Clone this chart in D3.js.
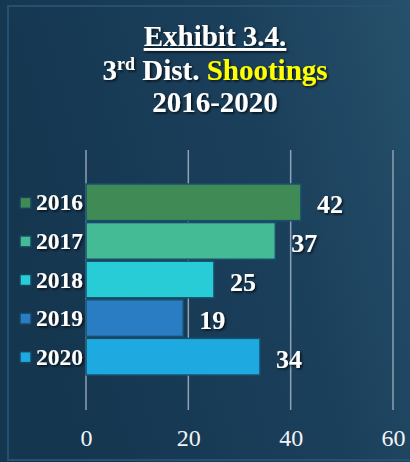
<!DOCTYPE html>
<html>
<head>
<meta charset="utf-8">
<script src="https://cdn.jsdelivr.net/npm/d3@7"></script>
<style>
  body { margin: 0; background: #173a56; }
  text { font-family: "Liberation Serif", "Times New Roman", serif; }
</style>
</head>
<body>
<script>
var years = ["2016", "2017", "2018", "2019", "2020"];
var shootings = [42, 37, 25, 19, 34];
var barColors = ["#3f8a55", "#45bb95", "#27ccd7", "#2a7dc3", "#1eaae0"];
var xTicks = [0, 20, 40, 60];

var W = 410, H = 462;

var svg = d3.select("body").append("svg")
    .attr("width", W)
    .attr("height", H);

var defs = svg.append("defs");
var bg = defs.append("linearGradient")
    .attr("id", "bg")
    .attr("x1", "0%").attr("y1", "30%")
    .attr("x2", "100%").attr("y2", "0%");
bg.append("stop").attr("offset", "0%").attr("stop-color", "#15364f");
bg.append("stop").attr("offset", "60%").attr("stop-color", "#1b405c");
bg.append("stop").attr("offset", "100%").attr("stop-color", "#26506b");

var shadow = defs.append("filter")
    .attr("id", "shadow")
    .attr("x", "-20%").attr("y", "-20%")
    .attr("width", "140%").attr("height", "140%");
shadow.append("feDropShadow")
    .attr("dx", 1.5).attr("dy", 1.5)
    .attr("stdDeviation", 1)
    .attr("flood-color", "#000")
    .attr("flood-opacity", 0.75);

svg.append("rect")
    .attr("width", W).attr("height", H)
    .attr("fill", "url(#bg)");

// frame lines
svg.append("rect")
    .attr("x", 8).attr("y", 6)
    .attr("width", W + 10).attr("height", H - 8)
    .attr("fill", "none")
    .attr("stroke", "#26506f")
    .attr("stroke-width", 2);

// title
var title = svg.append("g").attr("filter", "url(#shadow)")
    .style("font-weight", "bold")
    .style("font-size", "29px")
    .attr("text-anchor", "middle")
    .attr("fill", "#fff");

title.append("text")
    .attr("x", 215).attr("y", 46)
    .style("text-decoration", "underline")
    .text("Exhibit 3.4.");

var t2 = title.append("text").attr("x", 215).attr("y", 80);
t2.append("tspan").text("3");
t2.append("tspan").attr("dy", -10).style("font-size", "18px").text("rd");
t2.append("tspan").attr("dy", 10).text(" Dist. ");
t2.append("tspan").attr("fill", "#ffff00").text("Shootings");

title.append("text")
    .attr("x", 215).attr("y", 112)
    .text("2016-2020");

// scales
var x = d3.scaleLinear().domain([0, 60]).range([86, 393]);
var y = d3.scaleBand().domain(years).range([184, 375]).paddingInner(0.05);

// gridlines
svg.append("g")
    .selectAll("line")
    .data(xTicks)
    .enter().append("line")
    .attr("x1", function(d) { return x(d); })
    .attr("x2", function(d) { return x(d); })
    .attr("y1", 150).attr("y2", 410)
    .attr("stroke", "#8fa1b2")
    .attr("stroke-width", 1.5);

// x axis labels
var xAxis = svg.append("g")
    .attr("transform", "translate(0,446)")
    .call(d3.axisBottom(x).tickValues(xTicks).tickSize(0).tickPadding(0));
xAxis.select(".domain").remove();
xAxis.selectAll("text")
    .attr("dy", 0)
    .style("font-family", "'Liberation Serif', serif")
    .style("font-size", "24px")
    .attr("fill", "#f2f4f6");

// bars
svg.append("g")
    .selectAll("rect")
    .data(years)
    .enter().append("rect")
    .attr("x", x(0))
    .attr("y", function(d) { return y(d); })
    .attr("width", function(d, i) { return x(shootings[i]) - x(0); })
    .attr("height", y.bandwidth())
    .attr("fill", function(d, i) { return barColors[i]; })
    .attr("stroke", "#18506e")
    .attr("stroke-width", 1.5);

// value labels
svg.append("g").attr("filter", "url(#shadow)")
    .selectAll("text")
    .data(years)
    .enter().append("text")
    .attr("x", function(d, i) { return x(shootings[i]) + 16; })
    .attr("y", function(d) { return y(d) + y.bandwidth() / 2 + 11; })
    .style("font-size", "26px")
    .style("font-weight", "bold")
    .attr("fill", "#fff")
    .text(function(d, i) { return shootings[i]; });

// legend (category labels with swatches)
var leg = svg.append("g");
leg.selectAll("rect")
    .data(years)
    .enter().append("rect")
    .attr("x", 20)
    .attr("y", function(d) { return y(d) + y.bandwidth() / 2 - 5; })
    .attr("width", 11).attr("height", 11)
    .attr("fill", function(d, i) { return barColors[i]; })
    .attr("stroke", "#164560")
    .attr("stroke-width", 1.5);

leg.append("g").attr("filter", "url(#shadow)")
    .selectAll("text")
    .data(years)
    .enter().append("text")
    .attr("x", 36)
    .attr("y", function(d) { return y(d) + y.bandwidth() / 2 + 8; })
    .style("font-size", "23.5px")
    .style("font-weight", "bold")
    .attr("fill", "#fff")
    .text(function(d) { return d; });
</script>
</body>
</html>
